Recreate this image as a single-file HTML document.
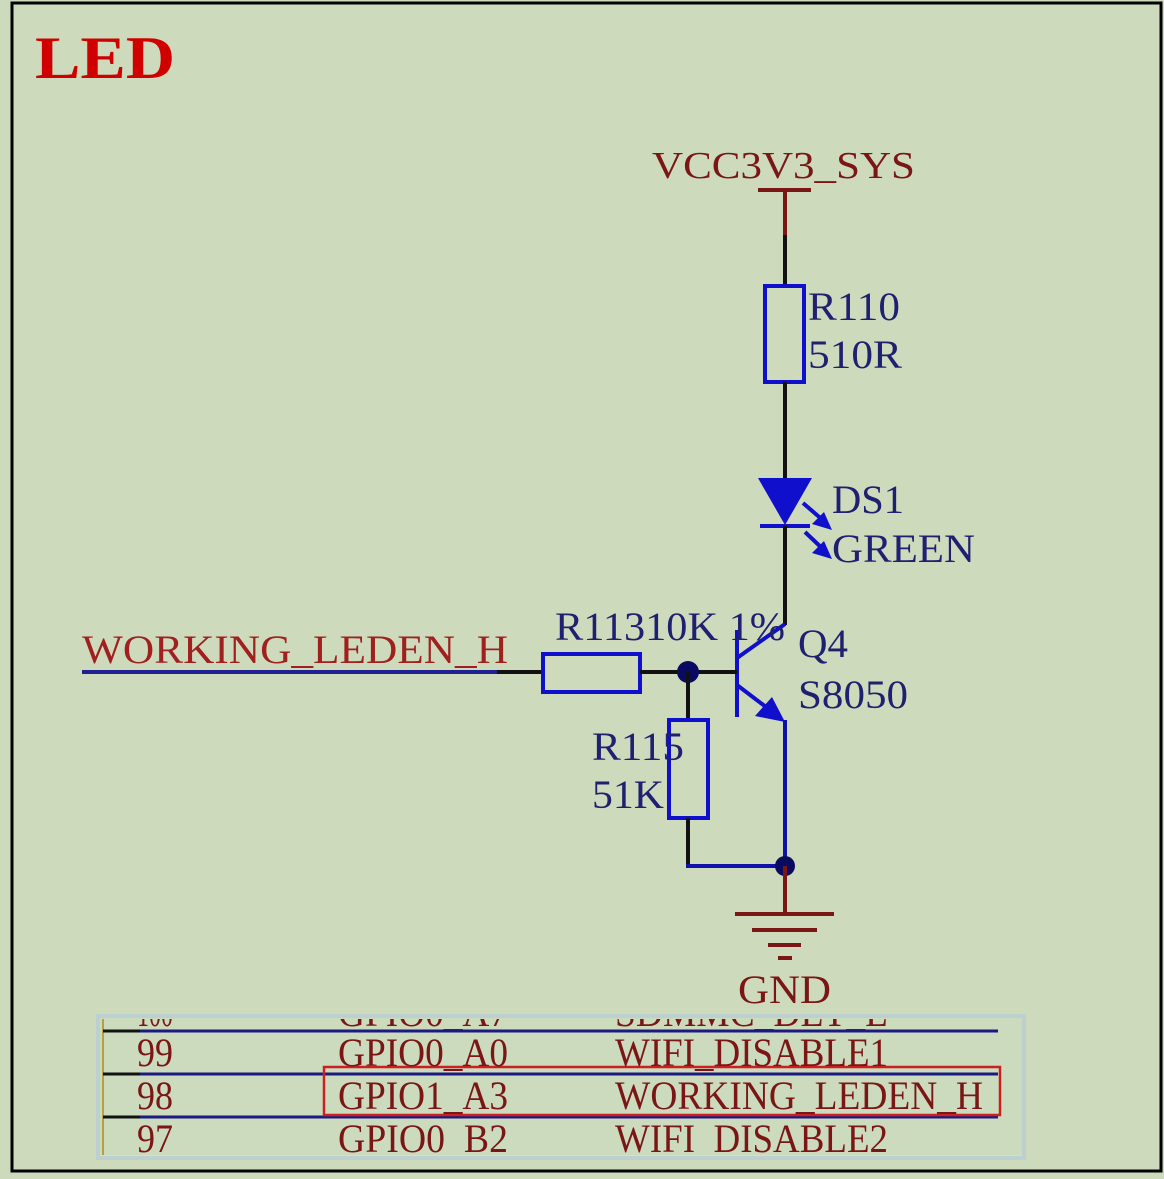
<!DOCTYPE html>
<html><head><meta charset="utf-8"><style>
html,body{margin:0;padding:0;background:#cddbbc;}
svg{display:block;}
text{font-family:"Liberation Serif",serif;}
</style></head><body>
<svg width="1164" height="1179" viewBox="0 0 1164 1179" xmlns="http://www.w3.org/2000/svg">
<defs><clipPath id="tc"><rect x="100" y="1019" width="922" height="136"/></clipPath></defs>
<rect x="0" y="0" width="1164" height="1179" fill="#cddbbc"/>
<rect x="12" y="3" width="1149" height="1168" fill="none" stroke="#000" stroke-width="3"/>
<text x="35" y="78" font-size="60" font-weight="bold" fill="#d00000" textLength="140" lengthAdjust="spacingAndGlyphs">LED</text>

<text x="652" y="178" font-size="38" fill="#7a1616" textLength="263" lengthAdjust="spacingAndGlyphs">VCC3V3_SYS</text>
<line x1="758" y1="190" x2="811" y2="190" stroke="#7a1616" stroke-width="4"/>
<line x1="785" y1="190" x2="785" y2="235" stroke="#7a1616" stroke-width="4"/>
<line x1="785" y1="235" x2="785" y2="285" stroke="#111" stroke-width="4"/>
<rect x="765" y="286" width="39" height="96" fill="none" stroke="#1010cc" stroke-width="4"/>
<text x="808" y="320" font-size="40" fill="#202070" textLength="92" lengthAdjust="spacingAndGlyphs">R110</text>
<text x="808" y="368" font-size="40" fill="#202070" textLength="94" lengthAdjust="spacingAndGlyphs">510R</text>
<line x1="785" y1="382" x2="785" y2="478" stroke="#111" stroke-width="4"/>
<polygon points="758,478 812,478 785,525" fill="#1010cc"/>
<line x1="760" y1="526" x2="810" y2="526" stroke="#1010cc" stroke-width="4"/>
<line x1="803" y1="503" x2="825" y2="522" stroke="#1010cc" stroke-width="4"/>
<polygon points="832,530 812,524 824,512" fill="#1010cc"/>
<line x1="805" y1="532" x2="825" y2="551" stroke="#1010cc" stroke-width="4"/>
<polygon points="832,559 812,553 824,541" fill="#1010cc"/>
<text x="832" y="513" font-size="40" fill="#202070" textLength="72" lengthAdjust="spacingAndGlyphs">DS1</text>
<text x="832" y="562" font-size="40" fill="#202070" textLength="143" lengthAdjust="spacingAndGlyphs">GREEN</text>
<line x1="785" y1="526" x2="785" y2="625" stroke="#111" stroke-width="4"/>
<line x1="737" y1="630" x2="737" y2="717" stroke="#1010cc" stroke-width="4"/>
<line x1="737" y1="658" x2="785" y2="624" stroke="#1010cc" stroke-width="4"/>
<line x1="737" y1="685" x2="770" y2="710" stroke="#1010cc" stroke-width="4"/>
<polygon points="785,722 755,716 772,697" fill="#1010cc"/>
<text x="798" y="657" font-size="40" fill="#202070" textLength="50" lengthAdjust="spacingAndGlyphs">Q4</text>
<text x="798" y="708" font-size="40" fill="#202070" textLength="110" lengthAdjust="spacingAndGlyphs">S8050</text>
<text x="82" y="663" font-size="40" fill="#a02020" textLength="426" lengthAdjust="spacingAndGlyphs">WORKING_LEDEN_H</text>
<line x1="82" y1="672" x2="497" y2="672" stroke="#202090" stroke-width="4"/>
<line x1="497" y1="672" x2="543" y2="672" stroke="#111" stroke-width="4"/>
<rect x="543" y="654" width="97" height="38" fill="none" stroke="#1010cc" stroke-width="4"/>
<line x1="640" y1="672" x2="737" y2="672" stroke="#111" stroke-width="4"/>
<text x="555" y="640" font-size="40" fill="#202070" textLength="230" lengthAdjust="spacingAndGlyphs">R11310K 1%</text>
<circle cx="688" cy="672" r="11" fill="#0a0a60"/>
<line x1="688" y1="672" x2="688" y2="720" stroke="#111" stroke-width="4"/>
<rect x="669" y="720" width="39" height="98" fill="none" stroke="#1010cc" stroke-width="4"/>
<text x="592" y="760" font-size="40" fill="#202070" textLength="92" lengthAdjust="spacingAndGlyphs">R115</text>
<text x="592" y="808" font-size="40" fill="#202070" textLength="72" lengthAdjust="spacingAndGlyphs">51K</text>
<line x1="688" y1="818" x2="688" y2="866" stroke="#111" stroke-width="4"/>
<line x1="686" y1="866" x2="785" y2="866" stroke="#1010aa" stroke-width="4"/>
<line x1="785" y1="720" x2="785" y2="866" stroke="#1010aa" stroke-width="4"/>
<circle cx="785" cy="866" r="10" fill="#0a0a60"/>
<line x1="785" y1="866" x2="785" y2="914" stroke="#7a1616" stroke-width="4"/>
<line x1="735" y1="914" x2="834" y2="914" stroke="#7a1616" stroke-width="4"/>
<line x1="752" y1="930" x2="817" y2="930" stroke="#7a1616" stroke-width="4"/>
<line x1="768" y1="945" x2="801" y2="945" stroke="#7a1616" stroke-width="4"/>
<line x1="778" y1="958" x2="792" y2="958" stroke="#7a1616" stroke-width="4"/>
<text x="738" y="1003" font-size="40" fill="#7a1616" textLength="93" lengthAdjust="spacingAndGlyphs">GND</text>
<rect x="98" y="1016" width="926" height="142" fill="#d4e0c8" stroke="#bcd0d0" stroke-width="4"/>
<rect x="100" y="1018" width="922" height="137" fill="#ccdabd"/>
<g clip-path="url(#tc)">
<line x1="103" y1="1018" x2="103" y2="1155" stroke="#b8a040" stroke-width="2"/>
<g font-size="40" fill="#7a1616">
<text x="137" y="1026" textLength="36" lengthAdjust="spacingAndGlyphs">100</text>
<text x="338" y="1026" textLength="170" lengthAdjust="spacingAndGlyphs">GPIO0_A7</text>
<text x="615" y="1026" textLength="273" lengthAdjust="spacingAndGlyphs">SDMMC_DET_L</text>
</g>
<line x1="103" y1="1031" x2="998" y2="1031" stroke="#1a1a80" stroke-width="3"/>
<line x1="103" y1="1074" x2="998" y2="1074" stroke="#1a1a80" stroke-width="3"/>
<line x1="103" y1="1117" x2="998" y2="1117" stroke="#1a1a80" stroke-width="3"/>
<line x1="103" y1="1031" x2="140" y2="1031" stroke="#111" stroke-width="3"/>
<line x1="103" y1="1074" x2="140" y2="1074" stroke="#111" stroke-width="3"/>
<line x1="103" y1="1117" x2="140" y2="1117" stroke="#111" stroke-width="3"/>
<rect x="324" y="1067" width="676" height="48" fill="none" stroke="#cc2020" stroke-width="2.5"/>
<g font-size="40" fill="#7a1616">
<text x="137" y="1066" textLength="36" lengthAdjust="spacingAndGlyphs">99</text>
<text x="338" y="1066" textLength="170" lengthAdjust="spacingAndGlyphs">GPIO0_A0</text>
<text x="615" y="1066" textLength="273" lengthAdjust="spacingAndGlyphs">WIFI_DISABLE1</text>
<text x="137" y="1109" textLength="36" lengthAdjust="spacingAndGlyphs">98</text>
<text x="338" y="1109" textLength="170" lengthAdjust="spacingAndGlyphs">GPIO1_A3</text>
<text x="615" y="1109" textLength="368" lengthAdjust="spacingAndGlyphs">WORKING_LEDEN_H</text>
<text x="137" y="1152" textLength="36" lengthAdjust="spacingAndGlyphs">97</text>
<text x="338" y="1152" textLength="170" lengthAdjust="spacingAndGlyphs">GPIO0_B2</text>
<text x="615" y="1152" textLength="273" lengthAdjust="spacingAndGlyphs">WIFI_DISABLE2</text>
</g>
</g>
</svg>
</body></html>
